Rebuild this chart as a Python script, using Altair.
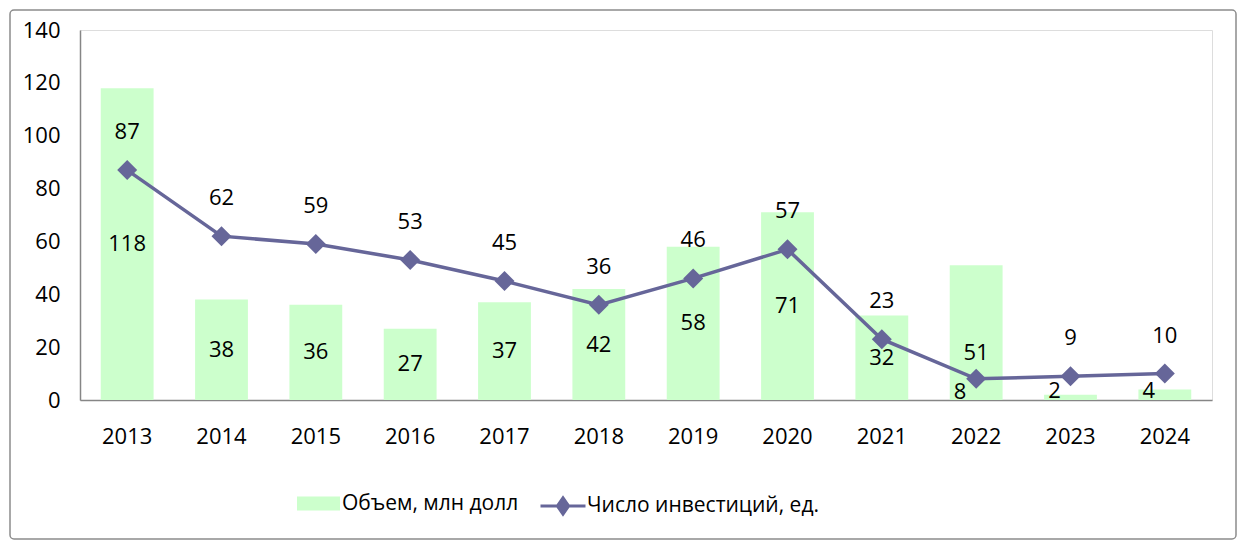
import altair as alt
import pandas as pd

years = [str(y) for y in range(2013, 2025)]
volume = [118, 38, 36, 27, 37, 42, 58, 71, 32, 51, 2, 4]
count = [87, 62, 59, 53, 45, 36, 46, 57, 23, 8, 9, 10]

VOL_NAME = "Объем, млн долл"
CNT_NAME = "Число инвестиций, ед."

df = pd.DataFrame({"year": years, "volume": volume, "count": count,
                   "vname": VOL_NAME, "cname": CNT_NAME})

FONT = "Open Sans"
FS = 22
LFS = 21
BAR_C = "#CCFFCC"
LINE_C = "#666699"

xenc = alt.X("year:N", sort=years, title=None,
             scale=alt.Scale(paddingInner=0.44, paddingOuter=0.22),
             axis=alt.Axis(labelAngle=0, ticks=False, labelPadding=26,
                           domainColor="#868686", domainWidth=1.5,
                           labelFontSize=FS, labelFont=FONT, labelColor="black"))
yscale = alt.Scale(domain=[0, 140])

base = alt.Chart(df)

bars = base.mark_bar(color=BAR_C).encode(
    x=xenc,
    y=alt.Y("volume:Q", scale=yscale, title=None,
            axis=alt.Axis(values=list(range(0, 141, 20)), grid=False, ticks=False,
                          labelPadding=20, domainColor="#868686", domainWidth=1.5,
                          labelFontSize=FS, labelFont=FONT, labelColor="black")),
    fill=alt.Fill("vname:N", scale=alt.Scale(domain=[VOL_NAME], range=[BAR_C]),
                  legend=alt.Legend(title=None, orient="none", legendX=217, legendY=452,
                                    symbolType="M-1,-0.33L1,-0.33L1,0.33L-1,0.33Z",
                                    symbolSize=1849, symbolStrokeWidth=0,
                                    labelFont=FONT, labelFontSize=LFS, labelColor="black",
                                    labelOffset=2, labelLimit=0)),
)

txt = dict(font=FONT, fontSize=FS, color="black")

bar_lbl = base.transform_filter("datum.volume >= 10 && datum.year != '2022'").transform_calculate(
    ly="datum.volume / 2").mark_text(**txt).encode(
    x=alt.X("year:N", sort=years), y=alt.Y("ly:Q", scale=yscale), text="volume:Q")

bar_lbl_small = base.transform_filter("datum.volume < 10").transform_calculate(
    ly="3.5").mark_text(dx=-16, **txt).encode(
    x=alt.X("year:N", sort=years), y=alt.Y("ly:Q", scale=yscale), text="volume:Q")

bar_lbl_22 = base.transform_filter("datum.year == '2022'").transform_calculate(
    ly="datum.volume / 2").mark_text(dy=20, **txt).encode(
    x=alt.X("year:N", sort=years), y=alt.Y("ly:Q", scale=yscale), text="volume:Q")

line = base.mark_line(strokeWidth=3.5).encode(
    x=alt.X("year:N", sort=years),
    y=alt.Y("count:Q", scale=yscale),
    stroke=alt.Stroke("cname:N", scale=alt.Scale(domain=[CNT_NAME], range=[LINE_C]),
                      legend=alt.Legend(title=None, orient="none", legendX=459, legendY=452,
                                        symbolType="M-1,0L1,0M0,-0.36L0.25,0L0,0.36L-0.25,0Z",
                                        symbolSize=2025, symbolStrokeWidth=3,
                                        symbolFillColor=LINE_C,
                                        labelFont=FONT, labelFontSize=LFS, labelColor="black",
                                        labelOffset=0, labelLimit=0)),
)

pts = base.mark_point(shape="diamond", filled=True, size=400, color=LINE_C, opacity=1).encode(
    x=alt.X("year:N", sort=years), y=alt.Y("count:Q", scale=yscale))

line_lbl = base.transform_filter("datum.year != '2022'").mark_text(dy=-38, **txt).encode(
    x=alt.X("year:N", sort=years), y=alt.Y("count:Q", scale=yscale), text="count:Q")

line_lbl_22 = base.transform_filter("datum.year == '2022'").mark_text(dy=13, dx=-16, **txt).encode(
    x=alt.X("year:N", sort=years), y=alt.Y("count:Q", scale=yscale), text="count:Q")

frame = alt.Chart(pd.DataFrame({"a": [0]})).mark_rect(
    filled=False, stroke="#8c8c8c", strokeWidth=1.5, cornerRadius=4).encode(
    x=alt.value(-70), x2=alt.value(1156), y=alt.value(-20), y2=alt.value(509))

chart = alt.layer(frame, bars, bar_lbl, bar_lbl_small, bar_lbl_22, line, pts,
                  line_lbl, line_lbl_22).properties(
    width=1132, height=370,
    autosize=alt.AutoSizeParams(type="none"),
    padding={"left": 72, "top": 22, "right": 26, "bottom": 145},
).configure_view(stroke=None).configure(background="white")

chart.save("out.html", embed_options={"renderer": "svg", "actions": False})
